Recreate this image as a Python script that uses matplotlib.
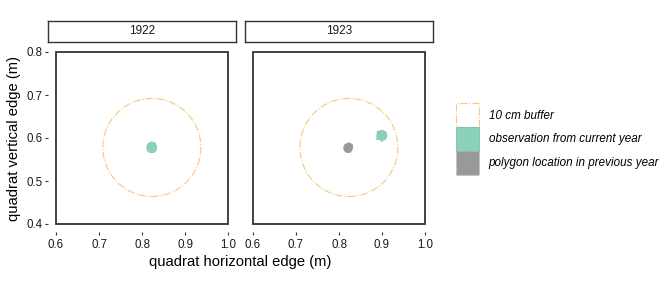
import matplotlib
matplotlib.use("Agg")
import matplotlib.pyplot as plt
from matplotlib.patches import Polygon, Circle, Patch, Rectangle

plt.rcParams['font.family'] = ['Liberation Sans', 'DejaVu Sans']

# data
years = ["1922", "1923"]
buffer_center = (0.823, 0.578)
buffer_radius = 0.114

# 1922 observation (green)
obs22_x = [0.814, 0.822, 0.830, 0.834, 0.833, 0.827, 0.818, 0.812, 0.811]
obs22_y = [0.587, 0.591, 0.589, 0.581, 0.571, 0.566, 0.566, 0.571, 0.579]
# 1923 previous-year polygon (gray)
prev23_x = [0.814, 0.823, 0.831, 0.832, 0.827, 0.818, 0.812, 0.811]
prev23_y = [0.585, 0.589, 0.585, 0.576, 0.567, 0.566, 0.571, 0.579]
# 1923 observation (green)
obs23_x = [0.889, 0.900, 0.909, 0.912, 0.908, 0.902, 0.899, 0.897, 0.888, 0.888]
obs23_y = [0.615, 0.618, 0.614, 0.605, 0.597, 0.595, 0.591, 0.596, 0.596, 0.605]

xticks = [0.6, 0.7, 0.8, 0.9, 1.0]
yticks = [0.4, 0.5, 0.6, 0.7, 0.8]

green = "#66C2A5"
gray = "#999999"
orange = "#F8C77E"

fig = plt.figure(figsize=(6.72, 2.88), dpi=100)

W, H = 672, 288
panel_left = [56, 253]
panel_w = 172
panel_top, panel_bot = 52, 224

axes = []
for i, yr in enumerate(years):
    ax = fig.add_axes([panel_left[i] / W, (H - panel_bot) / H, panel_w / W, (panel_bot - panel_top) / H])
    ax.set_xlim(0.6, 1.0)
    ax.set_ylim(0.4, 0.8)
    ax.set_xticks(xticks)
    ax.set_xticklabels([f"{t:.1f}" for t in xticks])
    ax.set_yticks(yticks)
    # ticks sit a little away from the panel border, like ggplot
    for side in ['left', 'bottom']:
        ax.spines[side].set_position(('outward', 5.8))
    for s in ax.spines.values():
        s.set_visible(False)
    ax.add_patch(Rectangle((0, 0), 1, 1, transform=ax.transAxes, fill=False,
                           edgecolor="#333333", linewidth=1.3, clip_on=False, zorder=5))
    ax.tick_params(labelsize=8.3, length=2.3, width=0.8, color="#333333", labelcolor="#1a1a1a")
    ax.tick_params(axis='x', pad=2.5)
    ax.tick_params(axis='y', pad=1.5)
    if i == 0:
        ax.set_yticklabels([f"{t:.1f}" for t in yticks])
    else:
        ax.set_yticklabels([])
        ax.tick_params(axis='y', length=0)
    ax.add_patch(Circle(buffer_center, buffer_radius, fill=False, edgecolor=orange,
                        linestyle='-.', linewidth=0.8))
    # strip
    sax = fig.add_axes([(panel_left[i] - 8) / W, (H - 42) / H, (panel_w + 16) / W, 21 / H])
    sax.set_xticks([])
    sax.set_yticks([])
    for s in sax.spines.values():
        s.set_color("#333333")
        s.set_linewidth(1.0)
    sax.text(0.5, 0.5, yr, ha='center', va='center', fontsize=8.5, color="#1a1a1a")
    axes.append(ax)

axes[0].add_patch(Polygon(list(zip(obs22_x, obs22_y)), closed=True, facecolor=green,
                          edgecolor=green, alpha=0.75, linewidth=0.6))
axes[1].add_patch(Polygon(list(zip(prev23_x, prev23_y)), closed=True, facecolor=gray,
                          edgecolor=gray, alpha=1.0, linewidth=0.6))
axes[1].add_patch(Polygon(list(zip(obs23_x, obs23_y)), closed=True, facecolor=green,
                          edgecolor=green, alpha=0.75, linewidth=0.6))

fig.text(240.5 / W, 1 - 262 / H, "quadrat horizontal edge (m)", ha='center', va='center', fontsize=10.6)
fig.text(14 / W, 1 - 138 / H, "quadrat vertical edge (m)", ha='center', va='center',
         rotation=90, fontsize=10.6)

handles = [
    Patch(facecolor="white", edgecolor=orange, linestyle='-.', linewidth=0.8, label="10 cm buffer"),
    Patch(facecolor=green, edgecolor=green, alpha=0.75, linewidth=0.8, label="observation from current year"),
    Patch(facecolor=gray, edgecolor="#bbbbbb", linestyle=':', linewidth=0.8, label="polygon location in previous year"),
]
leg = fig.legend(handles=handles, loc='center left', bbox_to_anchor=(456 / W, 1 - 139 / H),
                 frameon=False, prop={'size': 8.4, 'style': 'italic'},
                 handlelength=1.95, handleheight=2.75, labelspacing=0.0,
                 handletextpad=0.85, borderpad=0, borderaxespad=0)

fig.savefig("out.png", dpi=100)
